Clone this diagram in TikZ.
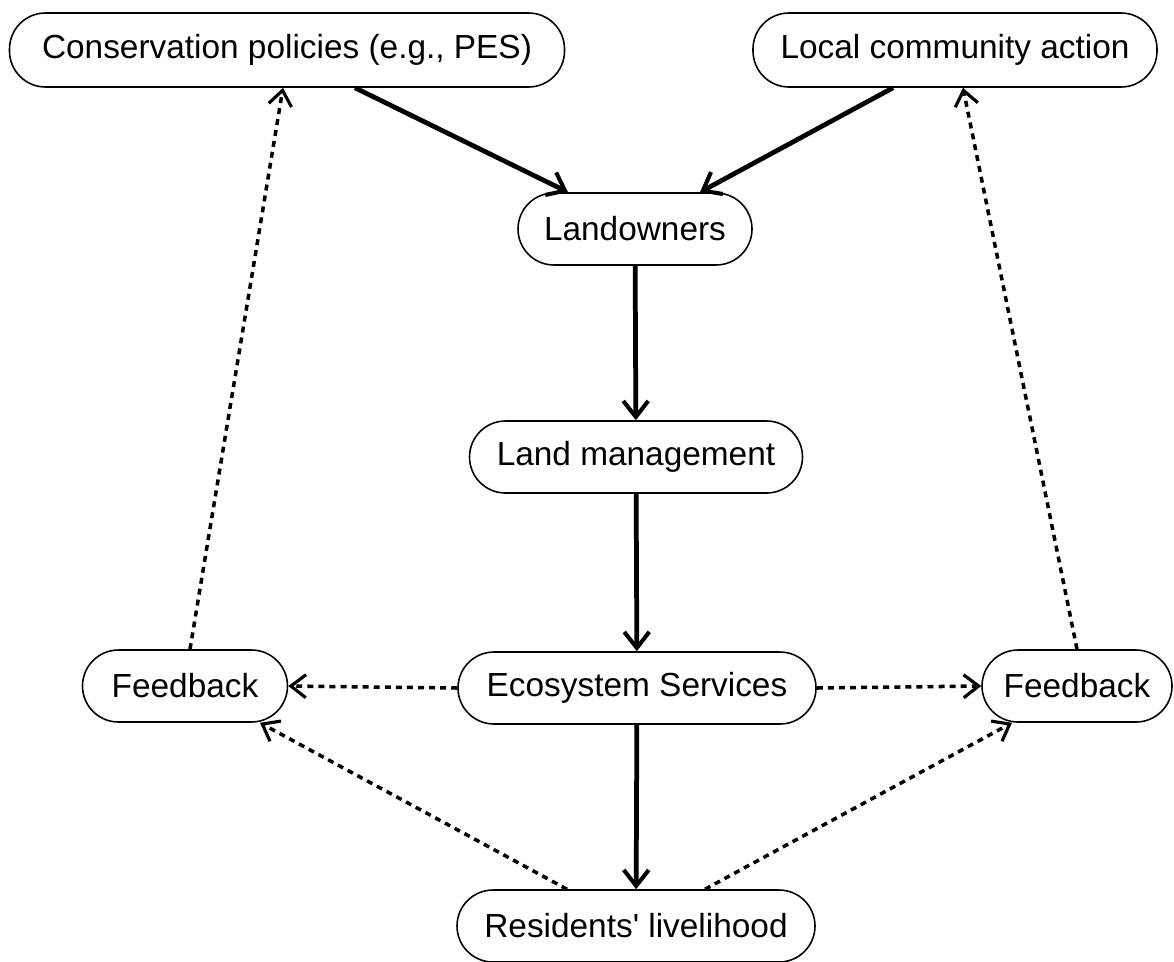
\documentclass[tikz,border=0pt]{standalone}
\usepackage{fontspec}
\setmainfont{Liberation Sans}
\usetikzlibrary{arrows.meta}

\begin{document}
\begin{tikzpicture}[
    box/.style={draw, line width=0.9pt, rounded corners=0.72cm, minimum height=1.44cm,
      inner sep=0pt, font=\fontsize{19}{23}\selectfont},
    flow/.style={line width=2.7pt, -{Straight Barb[length=3.2mm,width=5mm,line width=2.3pt]}},
    fb/.style={line width=2pt, dash pattern=on 3.4pt off 2.9pt,
      -{Straight Barb[length=3mm,width=4.6mm,line width=1.8pt]}}
  ]
  \useasboundingbox (0,0) rectangle (23.48,-19.22);

  % boxes
  \node[box, minimum width=11.1cm, minimum height=1.48cm] (cons) at (5.74,-1.00) {Conservation policies (e.g., PES)};
  \node[box, minimum width=8.08cm, minimum height=1.48cm] (local) at (19.10,-1.00) {Local community action};
  \node[box, minimum width=4.68cm] (owners) at (12.70,-4.58) {Landowners};
  \node[box, minimum width=6.66cm] (manage) at (12.72,-9.14) {Land management};
  \node[box, minimum width=7.16cm] (eco) at (12.74,-13.76) {Ecosystem Services};
  \node[box, minimum width=4.10cm] (fbL) at (3.70,-13.72) {Feedback};
  \node[box, minimum width=3.80cm] (fbR) at (21.54,-13.72) {Feedback};
  \node[box, minimum width=7.16cm] (res) at (12.72,-18.52) {Residents\textquotesingle{} livelihood};

  % main chain
  \draw[flow] ([xshift=1.36cm]cons.south) -- ([xshift=-1.34cm]owners.north);
  \draw[flow] ([xshift=-1.24cm]local.south) -- ([xshift=1.30cm]owners.north);
  \draw[flow] (owners) -- (manage);
  \draw[flow] (manage) -- (eco);
  \draw[flow] (eco) -- (res);

  % feedback loops
  \draw[fb] (eco.west) -- (fbL.east);
  \draw[fb] (eco.east) -- (fbR.west);
  \draw[fb] ([xshift=-1.38cm]res.north) -- ([xshift=1.5cm]fbL.south);
  \draw[fb] ([xshift=1.38cm]res.north) -- ([xshift=-1.3cm]fbR.south);
  \draw[fb] ([xshift=0.1cm]fbL.north) -- ([xshift=-0.08cm]cons.south);
  \draw[fb] (fbR.north) -- ([xshift=0.16cm]local.south);
\end{tikzpicture}
\end{document}
